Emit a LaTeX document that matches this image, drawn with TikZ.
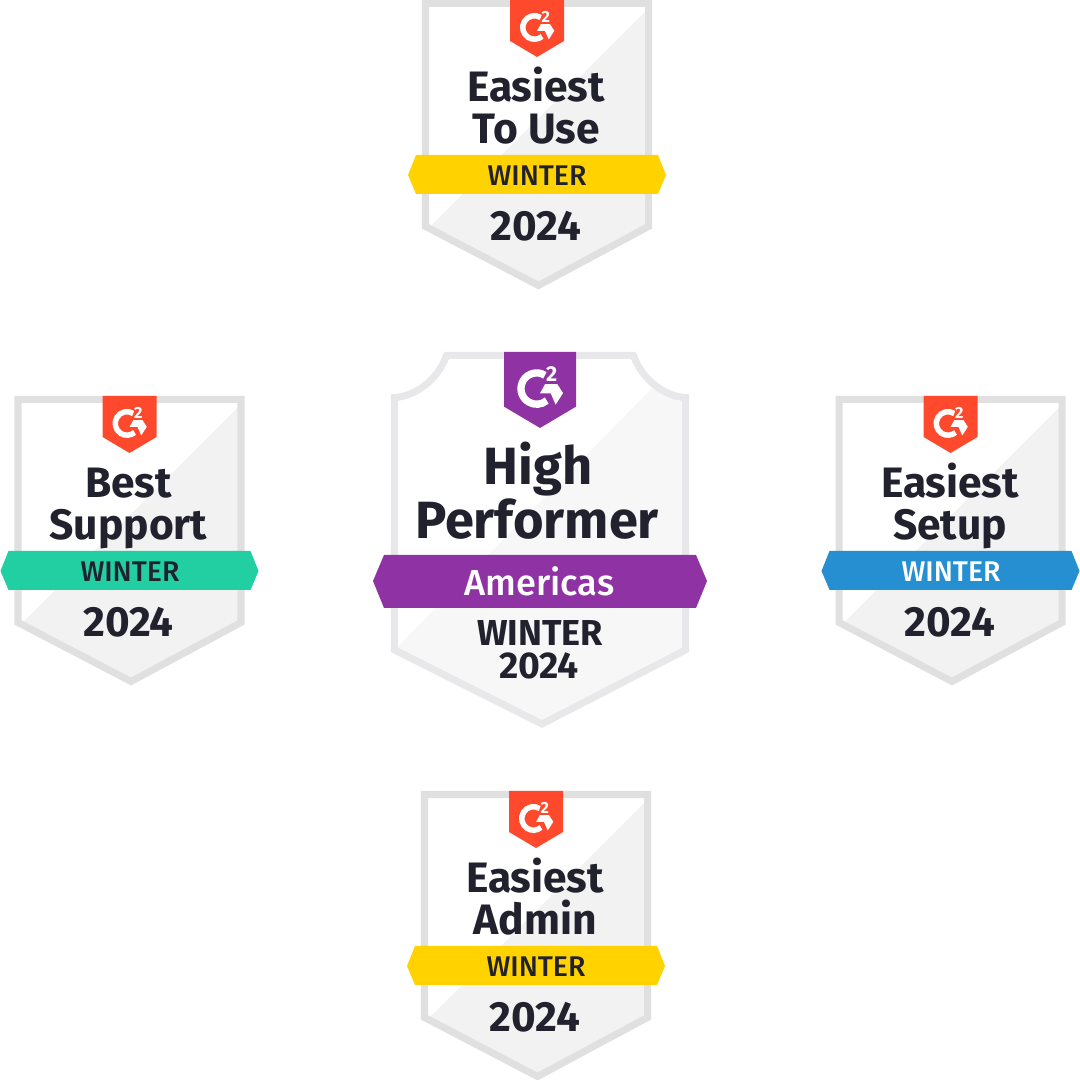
\documentclass[tikz,border=0pt]{standalone}
\usepackage{fontspec}
\setmainfont{Fira Sans}
\newfontfamily\badgemedium{Fira Sans Medium}
\usepackage{xcolor}
\definecolor{badgeink}{HTML}{22222E}
\definecolor{badgered}{HTML}{FF492C}
\definecolor{badgeyellow}{HTML}{FFD200}
\definecolor{badgegreen}{HTML}{21CFA3}
\definecolor{badgeblue}{HTML}{268FD1}
\definecolor{badgepurple}{HTML}{8F32A3}
\definecolor{smalledge}{HTML}{DFE0DF}
\definecolor{smallshade}{HTML}{F2F2F3}
\definecolor{largeedge}{HTML}{E8E8EA}
\definecolor{largeshade}{HTML}{F7F7F8}
\tikzset{
    badgetext/.style={text=badgeink,inner sep=0pt,align=center,anchor=base,font=\bfseries},
    titletext/.style={badgetext,font=\fontsize{12.1}{12.1}\selectfont\bfseries},
    bigtitletext/.style={badgetext,font=\fontsize{14.9}{14.9}\selectfont\bfseries},
    yeartext/.style={badgetext,font=\fontsize{12}{12}\selectfont\bfseries},
    wintertext/.style={badgetext,font=\fontsize{8.1}{8.1}\badgemedium},
    edgeline/.style={line width=2pt,miter limit=10},
}
\begin{document}
\begin{tikzpicture}[x=0.01cm,y=0.01cm]
        \newcommand{\badgelogo}[5]{
            % cx, top, scale, colour, name
            \begin{scope}[shift={(#1,1080-#2)},scale=#3]
                \fill[#4] (-27,0) -- (27,0) -- (27,-41) -- (0,-57) -- (-27,-41) -- cycle;
                \draw[white,line width=#3*1.56pt] (3.7,-17.5) arc (58:310:11.75);
                \fill[white] (3.75,-24.2) -- (13,-24.2) -- (17.25,-30.8) -- (11.75,-39.5) -- (8,-31) -- (0,-31) -- cycle;
                \node[transform shape,inner sep=0pt,text=white,font=\fontsize{4.6}{4.6}\selectfont\bfseries] (#5two) at (8.8,-16.5) {2};
            \end{scope}
        }
        \newcommand{\smallbadge}[9]{
            % cx, top, name, line one, line two, ribbon, winter colour, xshift of text, xshift of winter
            \begin{scope}[shift={(#1,1080-#2)}]
                \fill[white] (-111.5,-3.5) -- (111.5,-3.5) -- (111.5,-226.5) -- (1.5,-285.5) -- (-111.5,-226.5) -- cycle;
                \fill[smallshade] (111.5,-8.5) -- (111.5,-226.5) -- (1.5,-285.5) -- (-108.2,-228.2) -- cycle;
                \draw[smalledge,edgeline] (-111.5,-3.5) -- (111.5,-3.5) -- (111.5,-226.5) -- (1.5,-285.5) -- (-111.5,-226.5) -- cycle;
                \fill[#6] (-121,-155) -- (121,-155) -- (129,-175) -- (121,-194) -- (-121,-194) -- (-129,-175) -- cycle;
                \node[titletext] (#3one) at (#8,-102) {#4};
                \node[titletext] (#3two) at (#8,-144) {#5};
                \node[wintertext,text=#7] (#3winter) at (#9,-186) {WINTER};
                \node[yeartext] (#3year) at (#8,-241) {2024};
            \end{scope}
            \badgelogo{#1}{#2}{1}{badgered}{#3}
        }
        \useasboundingbox (0,0) rectangle (1080,1080);
        % four small badges
        \smallbadge{537}{0}{touse}{Easiest}{To Use}{badgeyellow}{badgeink}{-1}{0}
        \smallbadge{129.5}{396}{support}{Best}{Support}{badgegreen}{badgeink}{-1}{0.5}
        \smallbadge{950.5}{396}{setup}{Easiest}{Setup}{badgeblue}{white}{-0.5}{0.5}
        \smallbadge{536}{791}{admin}{Easiest}{Admin}{badgeyellow}{badgeink}{-1}{0}
        % large badge
        \fill[white] (394.5,1080-397.5) .. controls (415,1080-396.5) and (438,1080-380) .. (446.5,1080-355.5) -- (633.5,1080-355.5) .. controls (642,1080-380) and (665,1080-396.5) .. (685.5,1080-397.5) -- (685.5,1080-650) -- (542,1080-724) -- (394.5,1080-650) -- cycle;
        \fill[largeshade] (655,1080-385.3) .. controls (664.4,1080-392.6) and (675.25,1080-397) .. (685.5,1080-397.5) -- (685.5,1080-650) -- (542,1080-724) -- (394.5,1080-650) -- cycle;
        \draw[largeedge,edgeline] (394.5,1080-397.5) .. controls (415,1080-396.5) and (438,1080-380) .. (446.5,1080-355.5) -- (633.5,1080-355.5) .. controls (642,1080-380) and (665,1080-396.5) .. (685.5,1080-397.5) -- (685.5,1080-650) -- (542,1080-724) -- (394.5,1080-650) -- cycle;
        \fill[badgepurple] (373,1080-581) -- (384,1080-555) -- (696,1080-555) -- (707,1080-581) -- (696,1080-608) -- (384,1080-608) -- cycle;
        \badgelogo{540}{352}{1.333}{badgepurple}{high}
        \node[bigtitletext] (highone) at (538,1080-484.5) {High};
        \node[bigtitletext] (hightwo) at (537,1080-538.5) {Performer};
        \node[badgetext,text=white,font=\fontsize{10.3}{10.3}\badgemedium] (highregion) at (539.5,1080-596) {Americas};
        \node[yeartext,font=\fontsize{10.25}{10.25}\selectfont\bfseries] (highwinter) at (540,1080-646) {WINTER};
        \node[yeartext,font=\fontsize{10.6}{10.6}\selectfont\bfseries] (highyear) at (539,1080-679) {2024};
\end{tikzpicture}
\end{document}
